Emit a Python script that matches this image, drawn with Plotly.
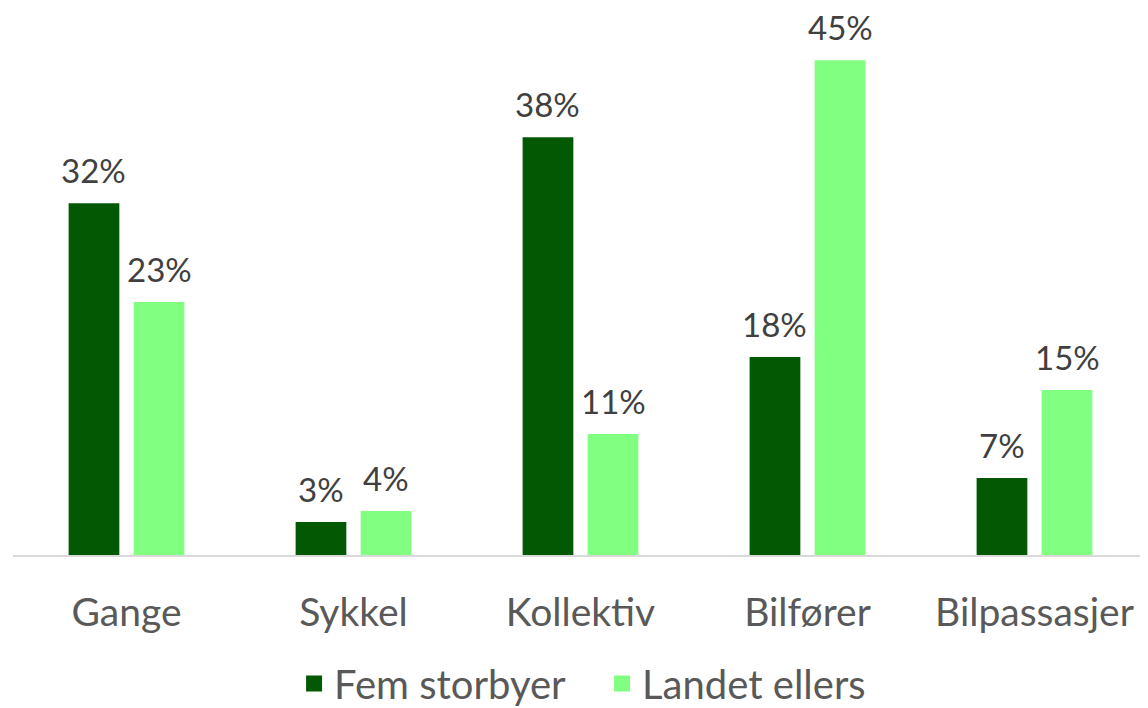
import plotly.graph_objects as go

categories = ["Gange", "Sykkel", "Kollektiv", "Bilfører", "Bilpassasjer"]
fem_storbyer = [32, 3, 38, 18, 7]
landet_ellers = [23, 4, 11, 45, 15]
series_names = ["Fem storbyer", "Landet ellers"]
colors = ["#035903", "#80FF80"]

FONT = "Lato"
fig = go.Figure()
for name, vals, col in zip(series_names, [fem_storbyer, landet_ellers], colors):
    fig.add_trace(go.Bar(x=categories, y=vals, name=name, marker_color=col,
                         marker_line_width=0, showlegend=False))
# legend entries with larger square swatches
for name, col in zip(series_names, colors):
    fig.add_trace(go.Scatter(x=[None], y=[None], mode="markers", name=name,
                             marker=dict(symbol="square", size=16, color=col)))

# data labels as annotations placed above bars
for vals, shift in [(fem_storbyer, -32.75), (landet_ellers, 32.75)]:
    for c, v in zip(categories, vals):
        fig.add_annotation(x=c, y=v, text=f"{v}%", showarrow=False,
                           xshift=shift, yshift=12, yanchor="bottom", borderpad=0,
                           font=dict(family=FONT, size=33, color="#404040"))

fig.update_layout(
    width=1140, height=708,
    margin=dict(l=5, r=0, t=0, b=149),
    paper_bgcolor="white", plot_bgcolor="white",
    barmode="group", bargap=0.427, bargroupgap=0.22,
    showlegend=True,
    legend=dict(orientation="h", x=0.519, xanchor="center", y=-0.236, yanchor="middle",
                font=dict(family=FONT, size=40, color="#595959"),
                itemwidth=30, entrywidth=263, traceorder="normal"),
    xaxis=dict(showline=True, linecolor="#D9D9D9", linewidth=2, ticks="",
               tickfont=dict(family=FONT, size=39, color="#595959"),
               ticklabelstandoff=22),
    yaxis=dict(range=[0, 49.75], showgrid=False, showticklabels=False,
               zeroline=False, showline=False),
)

fig.write_html("out.html")
